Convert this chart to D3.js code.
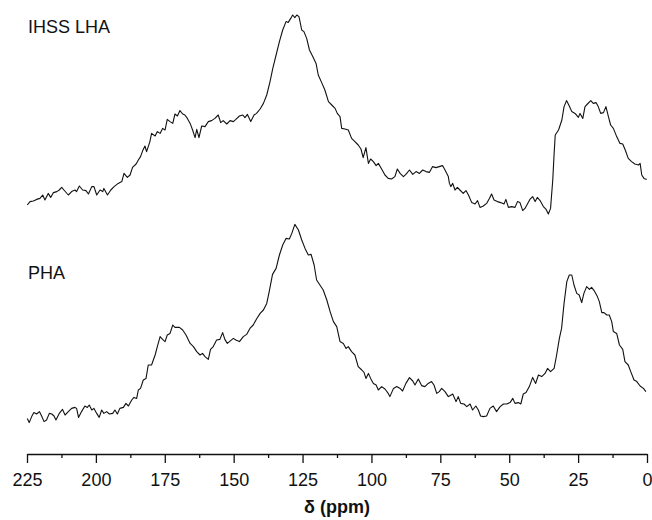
<!DOCTYPE html>
<html lang="en">
<head>
    <meta charset="UTF-8">
    <title>13C NMR spectra</title>
    <script src="https://d3js.org/d3.v7.min.js"></script>
    <style>
        body { margin: 0; background: #fff; }
        svg text { font-family: Arial, "Liberation Sans", sans-serif; fill: #111; }
    </style>
</head>
<body>
    <svg width="652" height="520" id="chart"></svg>

    <script>
        // chemical shift (ppm) and relative intensity
        const lhaShift = [
            224.9, 223.9, 222.7, 221.5, 220.3, 219.3, 218.5, 217.3, 216.4, 215.4,
            214.2, 213.3, 212.4, 211.6, 210.0, 208.8, 207.6, 207.0, 206.0, 204.8,
            203.6, 202.7, 201.5, 200.7, 199.7, 198.5, 197.5, 197.1, 195.8, 194.6,
            193.4, 191.9, 190.6, 189.8, 188.6, 187.6, 186.7, 185.4, 184.6, 183.8,
            183.0, 182.2, 181.6, 180.4, 179.8, 178.5, 177.7, 176.7, 175.8, 174.9,
            174.1, 173.1, 172.1, 171.3, 170.4, 169.5, 168.5, 167.7, 166.8, 165.8,
            164.9, 164.0, 163.4, 162.6, 161.6, 160.4, 159.2, 158.0, 156.8, 155.6,
            154.7, 153.8, 152.5, 151.3, 150.1, 149.2, 147.9, 146.7, 145.9, 145.0,
            143.8, 142.6, 141.7, 140.4, 139.2, 138.0, 136.8, 135.8, 134.6, 133.4,
            132.2, 131.0, 130.2, 129.3, 128.6, 127.8, 127.1, 126.3, 125.3, 124.5,
            123.5, 122.5, 121.3, 120.1, 119.3, 118.1, 116.9, 115.6, 114.4, 113.2,
            112.4, 111.4, 110.8, 109.6, 108.4, 107.2, 106.0, 104.8, 103.8, 103.0,
            102.0, 101.1, 100.3, 99.3, 98.3, 97.5, 96.3, 95.1, 93.9, 92.7,
            91.5, 90.6, 89.6, 88.4, 87.5, 86.2, 85.0, 83.8, 82.6, 81.4,
            80.2, 79.0, 77.8, 76.6, 75.4, 74.2, 73.3, 72.1, 71.7, 71.2,
            70.5, 69.7, 68.8, 67.9, 66.7, 65.7, 64.8, 63.6, 62.4, 61.5,
            60.6, 59.4, 58.2, 57.2, 56.4, 55.5, 54.3, 53.1, 51.9, 51.2,
            50.3, 49.1, 47.9, 47.0, 46.1, 45.1, 44.3, 43.4, 42.5, 41.5,
            40.6, 39.8, 38.8, 37.6, 36.6, 35.8, 35.0, 34.2, 33.7, 33.3,
            32.1, 30.9, 30.1, 29.2, 28.2, 27.3, 26.1, 24.9, 24.3, 23.3,
            22.5, 21.6, 20.4, 19.5, 18.5, 17.7, 16.8, 15.8, 14.9, 14.0,
            13.2, 12.2, 11.0, 9.8, 8.8, 7.9, 6.8, 5.6, 4.4, 3.1,
            2.5, 1.9, 1.1, 0.1
        ];
        const lhaIntensity = [
            5.0, 6.7, 7.0, 7.8, 8.3, 10.0, 7.5, 10.8, 8.8, 11.2,
            11.7, 12.5, 13.8, 12.5, 10.0, 11.7, 12.5, 11.7, 14.5, 12.5,
            12.2, 10.5, 14.2, 14.2, 10.0, 12.5, 11.7, 13.3, 10.0, 12.5,
            14.2, 15.8, 16.7, 20.8, 18.8, 20.0, 23.8, 25.5, 27.5, 29.2,
            32.2, 34.5, 31.7, 36.7, 40.8, 39.5, 41.7, 40.8, 43.3, 42.5,
            47.8, 46.7, 45.8, 50.5, 49.5, 52.2, 50.5, 50.0, 48.3, 45.8,
            42.5, 38.7, 42.8, 38.7, 44.5, 44.2, 46.7, 47.2, 48.3, 50.0,
            46.2, 47.2, 45.5, 47.2, 46.7, 47.8, 49.5, 50.0, 48.7, 50.3,
            46.7, 50.0, 50.8, 53.0, 55.8, 60.0, 66.7, 73.3, 80.0, 86.7,
            92.5, 96.7, 96.3, 98.3, 100.0, 98.7, 100.0, 99.2, 92.5, 91.7,
            88.3, 82.5, 79.2, 75.8, 70.0, 66.3, 62.5, 56.7, 55.0, 53.3,
            50.8, 49.2, 43.3, 43.0, 42.5, 38.3, 36.7, 35.0, 33.0, 28.7,
            33.7, 25.8, 28.0, 26.7, 24.7, 25.8, 23.0, 20.0, 18.3, 18.0,
            19.2, 23.0, 20.8, 19.2, 20.3, 22.5, 20.3, 21.7, 20.8, 22.5,
            21.7, 21.3, 24.2, 23.7, 24.2, 24.7, 22.5, 19.2, 15.8, 14.2,
            15.8, 12.5, 13.8, 12.5, 10.8, 12.2, 10.0, 6.2, 5.5, 7.2,
            3.8, 4.5, 5.8, 8.3, 10.5, 7.5, 6.7, 6.2, 5.5, 7.8,
            3.8, 4.2, 3.8, 6.7, 6.2, 2.2, 3.3, 5.5, 7.8, 9.2,
            6.7, 8.8, 7.2, 4.2, 2.8, 0.5, 3.3, 17.5, 30.8, 40.0,
            42.5, 47.5, 54.2, 57.2, 54.5, 51.7, 50.8, 48.8, 50.8, 48.3,
            54.2, 55.5, 57.2, 55.8, 56.2, 54.2, 50.8, 51.2, 54.2, 49.2,
            45.0, 43.3, 39.2, 35.8, 35.5, 32.5, 28.3, 26.7, 25.5, 25.0,
            25.8, 20.0, 18.3, 17.8
        ];
        const phaShift = [
            224.9, 224.2, 223.3, 222.5, 221.5, 220.5, 219.7, 218.8, 217.9, 216.9,
            216.0, 215.2, 214.5, 213.3, 212.1, 211.2, 210.0, 208.8, 207.6, 207.0,
            206.3, 205.2, 204.0, 203.1, 202.4, 201.5, 200.7, 199.7, 198.8, 197.9,
            197.1, 196.1, 195.1, 193.9, 193.1, 192.2, 191.3, 190.0, 189.1, 188.2,
            187.0, 186.2, 185.2, 184.6, 183.8, 182.8, 181.8, 181.0, 179.8, 178.5,
            177.7, 176.7, 175.8, 174.9, 174.1, 173.1, 172.1, 171.3, 169.7, 168.5,
            167.3, 165.8, 164.6, 163.4, 162.2, 161.3, 160.4, 159.2, 158.4, 157.4,
            156.2, 155.0, 154.0, 153.2, 152.3, 151.1, 150.1, 149.2, 147.9, 146.5,
            145.3, 144.1, 142.9, 141.7, 140.4, 139.2, 138.0, 137.1, 135.9, 134.6,
            133.4, 132.2, 131.0, 129.8, 128.9, 127.8, 126.5, 125.3, 124.1, 122.9,
            121.9, 120.8, 119.9, 118.7, 117.5, 116.2, 115.0, 113.8, 112.6, 111.4,
            110.2, 109.2, 108.4, 107.2, 106.0, 104.8, 103.5, 102.7, 102.0, 101.1,
            100.3, 99.3, 98.3, 97.5, 96.3, 95.1, 93.9, 93.3, 92.0, 90.8,
            89.6, 88.7, 87.5, 86.2, 85.0, 84.2, 83.0, 81.8, 80.6, 79.4,
            78.2, 77.3, 76.3, 75.4, 74.5, 73.3, 72.1, 71.7, 70.5, 69.3,
            68.5, 67.6, 66.4, 65.4, 64.2, 63.3, 62.1, 61.2, 60.4, 59.4,
            58.2, 57.0, 55.8, 54.6, 53.3, 52.1, 50.9, 49.7, 48.7, 47.9,
            46.7, 45.8, 44.9, 43.9, 42.7, 41.5, 40.4, 39.4, 38.2, 37.0,
            36.1, 35.0, 33.7, 32.8, 31.8, 31.0, 30.1, 29.1, 28.2, 27.3,
            26.5, 25.5, 24.6, 23.7, 22.9, 21.9, 20.9, 20.1, 19.2, 18.0,
            17.3, 16.4, 15.6, 14.6, 13.7, 12.8, 12.2, 11.0, 10.0, 8.8,
            8.0, 6.8, 5.9, 4.7, 3.7, 2.5, 1.3, 0.4
        ];
        const phaIntensity = [
            3.3, 1.2, 4.2, 6.2, 5.5, 6.7, 4.5, 1.7, 2.5, 5.8,
            5.5, 4.5, 2.5, 5.8, 7.8, 5.0, 6.7, 8.3, 8.8, 8.3,
            3.8, 6.7, 9.5, 8.8, 10.0, 7.5, 8.3, 5.8, 3.8, 7.5,
            5.8, 6.7, 5.5, 5.8, 7.5, 5.5, 8.3, 8.8, 10.8, 9.5,
            12.5, 13.8, 13.3, 17.5, 18.3, 22.5, 23.3, 30.0, 30.0, 35.0,
            39.2, 44.2, 42.8, 41.7, 45.0, 45.8, 50.0, 48.8, 48.8, 47.5,
            45.0, 40.8, 39.2, 36.7, 35.0, 35.8, 34.2, 32.8, 37.8, 39.2,
            42.5, 42.8, 46.2, 42.8, 40.8, 42.2, 43.3, 42.5, 41.7, 44.2,
            45.3, 48.3, 50.0, 53.0, 55.8, 57.5, 60.8, 66.7, 75.3, 78.3,
            85.0, 90.0, 93.3, 93.0, 95.8, 100.3, 97.5, 92.5, 88.3, 85.0,
            85.3, 80.0, 72.5, 70.0, 67.5, 62.5, 56.7, 51.7, 49.2, 41.7,
            40.8, 38.3, 39.2, 36.7, 35.0, 29.2, 27.5, 26.3, 23.3, 25.8,
            23.3, 20.8, 20.0, 17.5, 19.2, 18.0, 15.8, 14.2, 18.3, 19.2,
            18.3, 17.0, 20.8, 23.7, 22.0, 20.0, 23.0, 19.7, 19.2, 20.8,
            21.7, 20.0, 15.8, 16.7, 18.3, 16.7, 14.2, 14.5, 15.5, 11.7,
            14.2, 10.8, 10.5, 9.2, 10.5, 7.5, 9.5, 7.5, 4.5, 4.2,
            4.5, 8.3, 9.5, 6.7, 9.2, 10.5, 10.5, 11.2, 13.3, 10.8,
            11.2, 10.5, 15.5, 16.2, 19.2, 23.8, 20.8, 25.0, 24.2, 25.8,
            28.3, 26.7, 28.3, 35.0, 43.3, 48.3, 60.8, 71.7, 75.0, 75.0,
            70.0, 65.8, 65.0, 61.2, 65.8, 69.2, 67.8, 68.8, 67.2, 64.2,
            61.7, 56.2, 56.2, 55.0, 55.0, 51.7, 46.7, 45.8, 40.0, 37.8,
            31.7, 30.0, 26.7, 22.5, 21.7, 19.5, 18.3, 16.7
        ];
        const majorTicks = [225, 200, 175, 150, 125, 100, 75, 50, 25, 0];
        const minorTicks = [212.5, 187.5, 162.5, 137.5, 112.5, 87.5, 62.5, 37.5, 12.5];
        const spectra = [
            { name: "IHSS LHA", shift: lhaShift, intensity: lhaIntensity, top: 15, base: 215, labelY: 33 },
            { name: "PHA", shift: phaShift, intensity: phaIntensity, top: 225, base: 425, labelY: 279 }
        ];

        const svg = d3.select("#chart");
        const axisY = 454;

        // ppm axis runs right to left
        const x = d3.scaleLinear().domain([225, 0]).range([27, 647]);

        spectra.forEach(s => {
            const y = d3.scaleLinear().domain([0, 100]).range([s.base, s.top]);
            const pts = s.shift.map((d, i) => [d, s.intensity[i]]);
            const line = d3.line()
                .x(d => x(d[0]))
                .y(d => y(d[1]));
            svg.append("path")
                .datum(pts)
                .attr("fill", "none")
                .attr("stroke", "#111")
                .attr("stroke-width", 1.1)
                .attr("stroke-linejoin", "round")
                .attr("d", line);
            //spectrum name
            svg.append("text")
                .attr("x", 28)
                .attr("y", s.labelY)
                .style("font-size", "18px")
                .text(s.name);
        });

        //major ticks + labels
        const axis = svg.append("g")
            .attr("transform", `translate(0,${axisY})`)
            .call(d3.axisBottom(x).tickValues(majorTicks).tickSize(9).tickSizeOuter(0).tickFormat(d3.format("d")));
        axis.select(".domain").attr("stroke", "#111").attr("stroke-width", 1.3);
        axis.selectAll(".tick line").attr("stroke", "#111").attr("stroke-width", 1.3);
        axis.selectAll(".tick text")
            .attr("y", 32)
            .attr("dy", 0)
            .style("font-size", "18px")
            .style("font-family", "Arial, 'Liberation Sans', sans-serif")
            .attr("fill", "#111");

        //minor ticks
        svg.append("g")
            .attr("transform", `translate(0,${axisY})`)
            .call(d3.axisBottom(x).tickValues(minorTicks).tickSize(4).tickSizeOuter(0).tickFormat(""))
            .call(g => g.select(".domain").remove())
            .selectAll(".tick line").attr("stroke", "#111").attr("stroke-width", 1.3);

        //axis title
        svg.append("text")
            .attr("x", (x.range()[0] + x.range()[1]) / 2)
            .attr("y", 513)
            .attr("text-anchor", "middle")
            .style("font-size", "18px")
            .style("font-weight", "bold")
            .text("δ (ppm)");
    </script>
</body>
</html>
